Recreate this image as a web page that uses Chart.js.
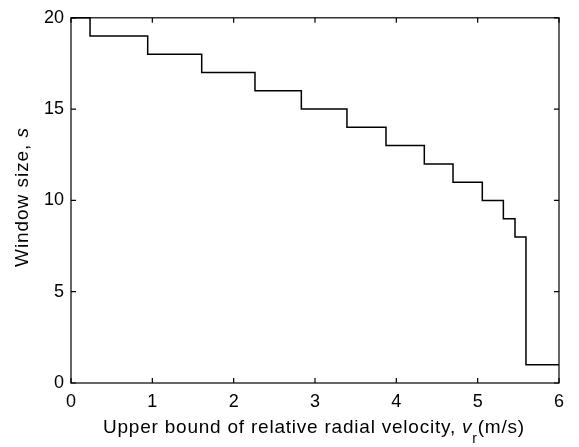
<!DOCTYPE html>
<html>
<head>
<meta charset="utf-8">
<script src="https://cdn.jsdelivr.net/npm/chart.js@4"></script>
<style>
html,body{margin:0;padding:0;background:#fff;}
canvas{display:block;}
</style>
</head>
<body>
<canvas id="c" width="579" height="447"></canvas>
<script>
const velocity = [0, 0.234, 0.943, 1.607, 2.262, 2.832, 3.393, 3.873, 4.344, 4.697, 5.057, 5.316, 5.459, 5.594, 6];
const windowSize = [20, 19, 18, 17, 16, 15, 14, 13, 12, 11, 10, 9, 8, 1, 1];
const xTicks = [0, 1, 2, 3, 4, 5, 6];
const yTicks = [0, 5, 10, 15, 20];
const xTitleParts = ["Upper bound of relative radial velocity, ", "v", "r", "(m/s)"];
const yTitleParts = ["Window size, ", "s"];

const FONT = '"Liberation Sans", Arial, sans-serif';

function drawParts(ctx, parts, x0, base, targetW) {
  ctx.letterSpacing = '0px';
  let raw = 0, n = 0;
  parts.forEach(p => { ctx.font = p.font; raw += ctx.measureText(p.t).width; n += p.t.length; });
  const sp = Math.max(0, (targetW - raw) / Math.max(1, n - 1));
  ctx.letterSpacing = sp.toFixed(2) + 'px';
  let x = x0;
  parts.forEach(p => {
    ctx.font = p.font;
    ctx.fillText(p.t, x, base + (p.dy || 0));
    x += ctx.measureText(p.t).width;
  });
  ctx.letterSpacing = '0px';
}

const boxPlugin = {
  id: 'box',
  afterDraw(chart) {
    const ctx = chart.ctx;
    const a = chart.chartArea;
    const xs = chart.scales.x, ys = chart.scales.y;
    ctx.save();
    ctx.strokeStyle = '#000';
    ctx.lineWidth = 1.2;
    ctx.strokeRect(a.left, a.top, a.right - a.left, a.bottom - a.top);
    const L = 5;
    ctx.beginPath();
    xTicks.forEach(v => {
      const px = xs.getPixelForValue(v);
      ctx.moveTo(px, a.bottom); ctx.lineTo(px, a.bottom - L);
      ctx.moveTo(px, a.top); ctx.lineTo(px, a.top + L);
    });
    yTicks.forEach(v => {
      const py = ys.getPixelForValue(v);
      ctx.moveTo(a.left, py); ctx.lineTo(a.left + L, py);
      ctx.moveTo(a.right, py); ctx.lineTo(a.right - L, py);
    });
    ctx.stroke();

    ctx.fillStyle = '#000';
    ctx.textBaseline = 'alphabetic';
    ctx.textAlign = 'left';
    const fN = '19px ' + FONT, fI = 'italic 19px ' + FONT, fS = '14px ' + FONT;
    drawParts(ctx, [
      {t: xTitleParts[0], font: fN},
      {t: xTitleParts[1], font: fI},
      {t: xTitleParts[2], font: fS, dy: 10},
      {t: xTitleParts[3], font: fN}
    ], 103, 433, 421);

    ctx.save();
    ctx.translate(28, 267);
    ctx.rotate(-Math.PI / 2);
    drawParts(ctx, [
      {t: yTitleParts[0], font: fN},
      {t: yTitleParts[1], font: fI}
    ], 0, 0, 139);
    ctx.restore();
    ctx.restore();
  }
};

new Chart(document.getElementById('c'), {
  type: 'line',
  data: {
    datasets: [{
      data: velocity.map((v, i) => ({x: v, y: windowSize[i]})),
      borderColor: '#000',
      borderWidth: 1.5,
      pointRadius: 0,
      stepped: 'before',
      fill: false,
      clip: false
    }]
  },
  options: {
    responsive: false,
    animation: false,
    devicePixelRatio: 1,
    layout: { padding: { top: 11, right: 20, left: 0, bottom: 0 } },
    plugins: { legend: { display: false }, tooltip: { enabled: false } },
    scales: {
      x: {
        type: 'linear', min: 0, max: 6,
        afterBuildTicks(s) { s.ticks = xTicks.map(v => ({value: v})); },
        afterFit(s) { s.height = 64; },
        grid: { display: false, drawTicks: false },
        border: { display: false },
        ticks: { color: '#000', padding: 8, font: { family: FONT, size: 18 }, maxRotation: 0 }
      },
      y: {
        type: 'linear', min: 0, max: 20,
        afterBuildTicks(s) { s.ticks = yTicks.map(v => ({value: v})); },
        afterFit(s) { s.width = 71; },
        grid: { display: false, drawTicks: false },
        border: { display: false },
        ticks: { color: '#000', padding: 7, font: { family: FONT, size: 18 } }
      }
    }
  },
  plugins: [boxPlugin]
});
</script>
</body>
</html>
